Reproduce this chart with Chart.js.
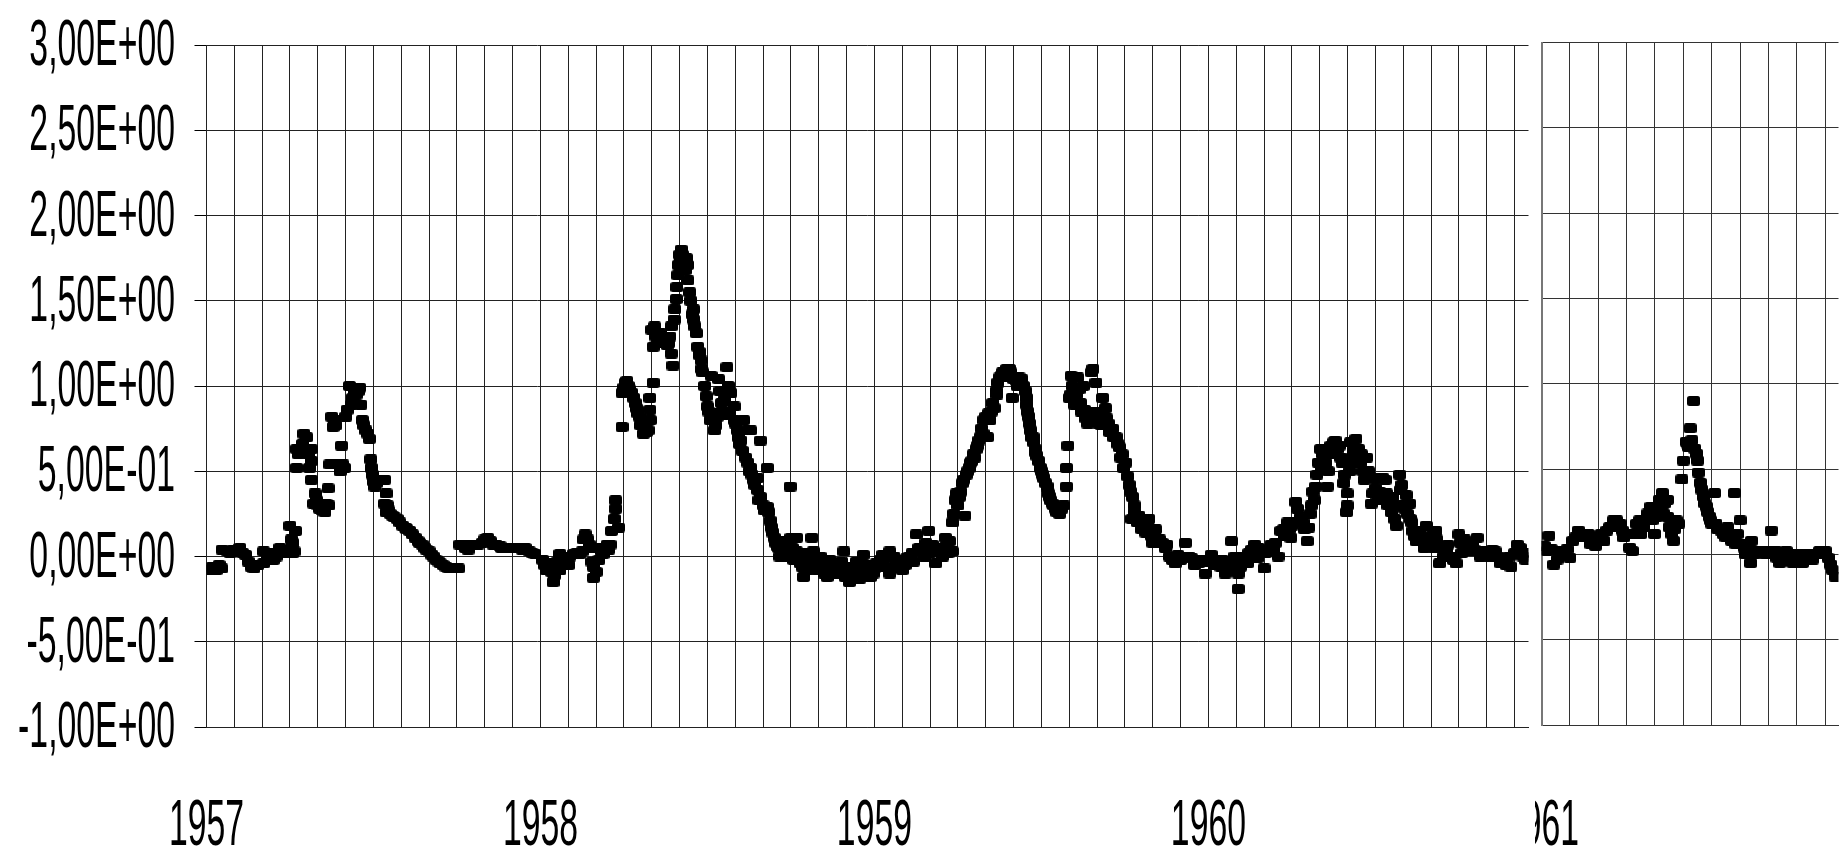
<!DOCTYPE html>
<html>
<head>
<meta charset="utf-8">
<title>1957-1961</title>
<script src="https://cdn.jsdelivr.net/npm/chart.js@4.4.0/dist/chart.umd.min.js"></script>
<style>
  html, body { margin: 0; padding: 0; background: #fff; }
  #wrap { position: relative; width: 1845px; height: 850px; overflow: hidden; }
  #left { position: absolute; left: 0; top: 0; }
  #right { position: absolute; left: 1535px; top: 0; }
</style>
</head>
<body>
<div id="wrap">
  <canvas id="left" width="1535" height="850"></canvas>
  <canvas id="right" width="310" height="850"></canvas>
</div>
<script>
    'use strict';

    // Year labels on the x axis (one label per 12 months)
    const years = [1957, 1958, 1959, 1960, 1961];

    // Observations per year: [month of year (0 = 1 Jan), value]
    const obs1957 = [
        [0.1,-0.08],[0.2,-0.06],[0.35,-0.08],[0.45,-0.05],[0.55,-0.07],[0.56,0.04],[0.75,0.03],[0.85,0.02],[0.95,0.04],
        [1.05,0.03],[1.2,0.05],[1.3,0.02],[1.4,0.01],[1.5,-0.03],[1.6,-0.06],[1.7,-0.07],[1.85,-0.05],[2.05,-0.04],
        [2.05,0.03],[2.2,-0.01],[2.3,0.02],[2.4,-0.02],[2.5,0.0],[2.64,0.05],[2.75,0.04],[2.8,0.02],[2.9,0.03],
        [3.05,0.1],[3.1,0.08],[3.15,0.03],[3.1,0.02],[3.0,0.18],[3.2,0.15],[3.24,0.63],[3.24,0.52],[3.3,0.6],
        [3.45,0.66],[3.5,0.72],[3.6,0.7],[3.55,0.63],[3.65,0.6],[3.7,0.52],[3.77,0.63],[3.77,0.56],[3.77,0.45],
        [3.9,0.37],[3.85,0.31],[3.95,0.33],[4.0,0.3],[4.06,0.28],[4.15,0.27],[4.2,0.3],[4.25,0.26],[4.3,0.31],
        [4.37,0.4],[4.4,0.3],[4.43,0.54],[4.5,0.82],[4.55,0.76],[4.6,0.8],[4.65,0.77],[4.7,0.54],[4.8,0.5],
        [4.85,0.65],[4.9,0.54],[4.96,0.52],[5.0,0.82],[5.05,0.86],[5.14,1.0],[5.2,0.89],[5.25,0.93],[5.3,0.97],
        [5.38,0.95],[5.45,0.97],[5.5,0.99],[5.55,0.89],[5.6,0.8],[5.65,0.77],[5.73,0.74],[5.8,0.72],[5.85,0.69],
        [5.9,0.57],[5.92,0.52],[5.96,0.48],[6.0,0.44],[6.05,0.41],[6.1,0.43],[6.2,0.45],[6.3,0.45],[6.4,0.45],
        [6.45,0.37],[6.4,0.31],[6.5,0.3],[6.45,0.26],[6.55,0.27],[6.6,0.25],[6.68,0.24],[6.75,0.23],[6.85,0.22],
        [6.95,0.2],[7.05,0.18],[7.15,0.17],[7.2,0.16],[7.3,0.15],[7.4,0.13],[7.5,0.11],[7.6,0.09],[7.65,0.08],
        [7.75,0.07],[7.85,0.05],[7.9,0.04],[8.0,0.03],[8.1,0.01],[8.15,0.0],[8.25,-0.02],[8.35,-0.03],[8.4,-0.04],
        [8.5,-0.05],[8.6,-0.06],[8.7,-0.07],[8.85,-0.07],[8.95,-0.07],[9.05,-0.07],[9.1,0.07],[9.2,0.07],[9.3,0.05],
        [9.4,0.07],[9.4,0.04],[9.6,0.07],[9.75,0.07],[9.9,0.08],[10.0,0.1],[10.1,0.11],[10.2,0.09],[10.3,0.07],
        [10.4,0.07],[10.55,0.06],[10.6,0.05],[10.75,0.05],[10.9,0.05],[11.0,0.05],[11.1,0.05],[11.25,0.05],
        [11.35,0.04],[11.45,0.05],[11.6,0.03],[11.7,0.02],[11.8,0.015]
    ];
    const obs1958 = [
        [0.08,-0.02],[0.15,-0.05],[0.2,-0.08],[0.3,-0.04],[0.4,-0.09],[0.45,-0.15],[0.5,-0.11],[0.55,-0.06],[0.6,-0.03],
        [0.7,0.015],[0.7,-0.08],[0.85,0.0],[0.95,-0.02],[1.0,-0.05],[1.05,0.0],[1.2,0.015],[1.3,0.02],[1.4,0.015],
        [1.5,0.03],[1.55,0.1],[1.6,0.13],[1.7,0.1],[1.75,0.07],[1.8,0.05],[1.85,-0.03],[1.9,-0.06],[1.9,-0.125],
        [2.0,-0.09],[2.05,0.05],[2.1,-0.02],[2.2,0.03],[2.25,0.015],[2.35,0.04],[2.4,0.07],[2.45,0.04],[2.5,0.07],
        [2.55,0.15],[2.65,0.22],[2.7,0.28],[2.7,0.33],[2.8,0.17],[2.93,0.76],[2.93,0.96],[3.0,0.99],[3.05,1.02],
        [3.1,1.03],[3.15,1.0],[3.2,0.98],[3.28,0.96],[3.35,0.93],[3.4,0.9],[3.45,0.87],[3.5,0.84],[3.55,0.82],
        [3.6,0.77],[3.64,0.8],[3.7,0.72],[3.75,0.74],[3.8,0.73],[3.87,0.74],[3.93,0.86],[3.93,0.93],[3.95,0.8],
        [4.05,1.02],[4.0,1.33],[4.1,1.35],[4.05,1.23],[4.15,1.29],[4.2,1.3],[4.25,1.25],[4.3,1.31],[4.35,1.28],
        [4.4,1.27],[4.5,1.27],[4.55,1.24],[4.6,1.25],[4.65,1.29],[4.7,1.19],[4.7,1.35],[4.76,1.12],[4.8,1.39],
        [4.82,1.45],[4.88,1.51],[4.9,1.58],[4.93,1.65],[4.95,1.71],[5.0,1.77],[5.03,1.74],[5.06,1.8],[5.1,1.77],
        [5.15,1.73],[5.2,1.68],[5.24,1.75],[5.28,1.71],[5.3,1.62],[5.36,1.55],[5.4,1.5],[5.45,1.42],[5.5,1.45],
        [5.5,1.39],[5.55,1.35],[5.6,1.31],[5.65,1.23],[5.7,1.2],[5.72,1.18],[5.77,1.15],[5.8,1.1],[5.83,1.08],
        [5.9,1.0],[5.95,0.94],[6.0,0.88],[6.05,0.85],[6.1,0.8],[6.13,1.06],[6.2,0.84],[6.25,0.74],[6.3,0.77],
        [6.35,0.82],[6.4,1.04],[6.45,0.97],[6.5,0.9],[6.55,0.85],[6.6,0.92],[6.6,0.83],[6.7,1.11],[6.75,1.0],
        [6.8,0.85],[6.84,0.96],[6.96,0.88],[6.96,0.8],[7.0,0.78],[7.08,0.74],[7.1,0.7],[7.15,0.66],[7.2,0.68],
        [7.25,0.62],[7.3,0.8],[7.37,0.58],[7.43,0.74],[7.45,0.55],[7.5,0.5],[7.55,0.74],[7.55,0.52],[7.6,0.48],
        [7.65,0.45],[7.7,0.42],[7.8,0.46],[7.8,0.39],[7.85,0.33],[7.9,0.68],[7.9,0.35],[8.0,0.3],[8.05,0.27],
        [8.15,0.52],[8.15,0.29],[8.2,0.26],[8.25,0.21],[8.3,0.17],[8.35,0.14],[8.4,0.11],[8.45,0.08],[8.5,0.06],
        [8.55,0.05],[8.6,0.0],[8.65,0.04],[8.74,0.02],[8.75,0.09],[8.85,0.06],[8.9,0.0],[8.97,0.41],[9.0,0.11],
        [9.05,0.05],[9.1,-0.02],[9.2,0.11],[9.2,0.03],[9.33,-0.04],[9.4,-0.06],[9.45,-0.12],[9.5,-0.02],[9.55,0.02],
        [9.6,-0.08],[9.7,-0.04],[9.75,0.11],[9.8,0.03],[9.9,-0.02],[9.95,-0.08],[10.05,0.0],[10.1,-0.04],[10.15,-0.06],
        [10.2,-0.1],[10.3,-0.12],[10.35,-0.06],[10.4,-0.02],[10.5,-0.1],[10.55,-0.04],[10.65,-0.06],[10.75,-0.1],
        [10.8,-0.03],[10.9,0.03],[10.95,-0.12],[11.0,-0.1],[11.05,-0.06],[11.1,-0.15],[11.15,-0.12],[11.23,-0.08],
        [11.3,-0.1],[11.35,-0.03],[11.47,-0.13],[11.5,-0.05],[11.55,-0.1],[11.6,0.01],[11.7,-0.06],[11.8,-0.05],
        [11.85,-0.12],[11.95,-0.1]
    ];
    const obs1959 = [
        [0.0,-0.07],[0.06,-0.04],[0.15,-0.06],[0.2,-0.02],[0.3,0.01],[0.4,-0.06],[0.45,0.0],[0.55,0.03],[0.55,-0.1],
        [0.65,-0.07],[0.7,0.0],[0.8,-0.04],[0.9,-0.02],[1.0,-0.08],[1.1,-0.05],[1.15,-0.01],[1.25,0.0],[1.35,0.02],
        [1.4,-0.03],[1.5,0.13],[1.6,0.05],[1.7,0.03],[1.8,0.0],[1.85,0.08],[1.95,0.15],[2.0,0.02],[2.08,0.07],
        [2.15,0.03],[2.2,-0.04],[2.3,0.03],[2.4,0.05],[2.45,0.0],[2.55,0.11],[2.6,0.06],[2.65,0.02],[2.7,0.09],
        [2.8,0.03],[2.8,0.2],[2.85,0.25],[2.9,0.33],[2.95,0.37],[3.0,0.3],[3.05,0.35],[3.1,0.38],[3.15,0.43],
        [3.2,0.45],[3.25,0.24],[3.3,0.48],[3.35,0.5],[3.4,0.52],[3.45,0.55],[3.5,0.56],[3.55,0.6],[3.6,0.58],
        [3.65,0.63],[3.7,0.65],[3.75,0.68],[3.8,0.7],[3.85,0.75],[3.9,0.72],[3.93,0.8],[4.0,0.82],[4.06,0.7],
        [4.1,0.84],[4.15,0.8],[4.2,0.85],[4.25,0.9],[4.3,0.87],[4.37,0.97],[4.4,0.95],[4.43,1.02],[4.5,1.05],
        [4.55,1.06],[4.6,1.08],[4.67,1.08],[4.7,1.05],[4.75,1.1],[4.8,1.07],[4.85,1.1],[4.9,1.08],[4.95,0.93],
        [5.0,1.04],[5.05,1.05],[5.1,1.03],[5.13,1.0],[5.2,1.05],[5.25,1.02],[5.3,1.04],[5.35,1.0],[5.42,0.97],
        [5.45,0.93],[5.48,0.89],[5.5,0.85],[5.54,0.82],[5.57,0.78],[5.6,0.74],[5.65,0.7],[5.7,0.7],[5.72,0.67],
        [5.78,0.63],[5.8,0.61],[5.84,0.59],[5.9,0.56],[5.96,0.52],[6.0,0.5],[6.05,0.48],[6.08,0.46],[6.15,0.43],
        [6.2,0.41],[6.25,0.37],[6.3,0.35],[6.32,0.33],[6.4,0.31],[6.43,0.3],[6.5,0.28],[6.55,0.26],[6.6,0.27],
        [6.65,0.25],[6.73,0.28],[6.8,0.3],[6.9,0.41],[6.9,0.52],[6.95,0.65],[7.0,0.93],[7.05,0.95],[7.07,1.06],
        [7.1,1.0],[7.15,0.98],[7.2,0.89],[7.25,0.95],[7.3,1.05],[7.35,0.98],[7.4,0.9],[7.43,0.85],[7.5,1.0],
        [7.55,0.86],[7.6,0.81],[7.66,0.78],[7.7,0.8],[7.75,0.85],[7.8,1.08],[7.85,1.1],[7.9,0.85],[7.96,1.02],
        [8.0,0.8],[8.05,0.78],[8.1,0.85],[8.15,0.77],[8.2,0.93],[8.25,0.8],[8.3,0.87],[8.35,0.81],[8.4,0.78],
        [8.45,0.73],[8.55,0.75],[8.6,0.7],[8.68,0.7],[8.75,0.66],[8.8,0.64],[8.85,0.58],[8.9,0.6],[8.95,0.52],
        [9.03,0.55],[9.1,0.47],[9.15,0.42],[9.2,0.38],[9.27,0.35],[9.33,0.3],[9.35,0.26],[9.25,0.22],[9.4,0.24],
        [9.45,0.2],[9.5,0.24],[9.55,0.2],[9.6,0.16],[9.7,0.18],[9.75,0.14],[9.8,0.2],[9.86,0.22],[9.95,0.12],
        [10.0,0.08],[10.05,0.12],[10.1,0.16],[10.2,0.08],[10.25,0.1],[10.34,0.08],[10.45,0.05],[10.5,0.07],
        [10.6,0.0],[10.7,-0.02],[10.8,-0.04],[10.9,0.01],[11.0,-0.02],[11.1,0.0],[11.17,0.08],[11.3,0.0],
        [11.4,-0.01],[11.5,-0.05],[11.64,-0.04],[11.75,-0.02],[11.88,-0.1],[11.95,-0.03]
    ];
    const obs1960 = [
        [0.05,-0.03],[0.1,0.01],[0.2,-0.05],[0.25,-0.02],[0.35,-0.04],[0.45,-0.06],[0.5,-0.02],[0.6,-0.1],[0.7,-0.05],
        [0.75,-0.08],[0.83,0.09],[0.9,-0.04],[0.95,0.0],[1.07,-0.1],[1.07,-0.19],[1.15,-0.06],[1.2,0.0],[1.3,-0.02],
        [1.4,-0.04],[1.45,0.02],[1.55,0.04],[1.66,0.07],[1.75,-0.01],[1.8,0.05],[1.9,0.02],[2.0,-0.07],[2.05,0.02],
        [2.15,0.03],[2.25,0.07],[2.35,0.04],[2.4,0.08],[2.5,0.0],[2.6,0.15],[2.7,0.16],[2.75,0.12],[2.85,0.2],
        [2.9,0.16],[2.96,0.11],[3.0,0.18],[3.05,0.2],[3.14,0.32],[3.2,0.28],[3.3,0.23],[3.4,0.2],[3.45,0.16],
        [3.55,0.09],[3.6,0.17],[3.65,0.25],[3.7,0.3],[3.75,0.38],[3.8,0.33],[3.85,0.41],[3.9,0.48],[3.95,0.55],
        [4.03,0.63],[4.05,0.52],[4.1,0.6],[4.15,0.58],[4.2,0.55],[4.27,0.41],[4.3,0.5],[4.35,0.6],[4.4,0.65],
        [4.45,0.62],[4.5,0.67],[4.55,0.68],[4.62,0.63],[4.7,0.65],[4.75,0.58],[4.8,0.55],[4.86,0.43],[4.9,0.48],
        [4.98,0.3],[4.98,0.37],[4.96,0.26],[5.08,0.5],[5.1,0.67],[5.15,0.58],[5.2,0.62],[5.25,0.55],[5.3,0.69],
        [5.35,0.6],[5.4,0.63],[5.45,0.55],[5.5,0.6],[5.55,0.5],[5.6,0.45],[5.68,0.58],[5.75,0.5],[5.8,0.46],
        [5.85,0.31],[5.9,0.37],[6.0,0.4],[6.05,0.36],[6.1,0.46],[6.15,0.38],[6.2,0.33],[6.27,0.46],[6.35,0.45],
        [6.4,0.37],[6.45,0.3],[6.5,0.34],[6.57,0.26],[6.6,0.35],[6.65,0.3],[6.7,0.22],[6.75,0.18],[6.87,0.48],
        [6.9,0.39],[6.95,0.42],[7.0,0.3],[7.05,0.28],[7.1,0.36],[7.15,0.25],[7.23,0.31],[7.25,0.22],[7.3,0.2],
        [7.35,0.15],[7.4,0.12],[7.46,0.09],[7.5,0.13],[7.6,0.15],[7.7,0.1],[7.75,0.05],[7.82,0.18],[7.94,0.07],
        [8.0,0.12],[8.05,0.08],[8.1,0.05],[8.17,0.15],[8.2,0.1],[8.3,-0.04],[8.4,0.05],[8.45,0.0],[8.54,0.03],
        [8.6,0.07],[8.7,0.0],[8.8,-0.02],[8.9,-0.04],[9.0,0.13],[9.05,0.08],[9.1,0.02],[9.2,0.1],[9.3,0.07],
        [9.4,0.03],[9.5,0.08],[9.55,0.04],[9.65,0.11],[9.76,0.0],[9.85,0.03],[10.0,0.01],[10.1,0.0],[10.2,0.04],
        [10.3,0.03],[10.4,0.0],[10.5,-0.04],[10.6,-0.03],[10.7,-0.05],[10.8,0.0],[10.87,-0.06],[11.0,0.02],
        [11.1,0.07],[11.2,0.05],[11.3,0.0],[11.4,-0.02],[11.5,0.02]
    ];
    const obs1961 = [
        [0.1,0.05],[0.2,0.02],[0.26,0.11],[0.35,0.03],[0.43,-0.06],[0.55,-0.03],[0.6,0.02],[0.77,0.0],[0.9,0.03],
        [1.0,-0.02],[1.1,0.08],[1.2,0.1],[1.3,0.14],[1.4,0.12],[1.5,0.1],[1.62,0.12],[1.65,0.12],[1.74,0.06],
        [1.85,0.1],[1.9,0.05],[2.0,0.08],[2.1,0.12],[2.2,0.08],[2.3,0.14],[2.4,0.16],[2.54,0.2],[2.6,0.16],
        [2.65,0.2],[2.77,0.18],[2.85,0.14],[2.9,0.1],[3.0,0.12],[3.1,0.04],[3.2,0.02],[3.3,0.12],[3.35,0.18],
        [3.46,0.2],[3.5,0.12],[3.6,0.16],[3.7,0.2],[3.75,0.24],[3.8,0.22],[3.86,0.28],[3.9,0.2],[3.98,0.12],
        [4.05,0.22],[4.1,0.28],[4.15,0.32],[4.26,0.36],[4.3,0.24],[4.35,0.3],[4.44,0.32],[4.45,0.22],[4.5,0.16],
        [4.6,0.12],[4.65,0.08],[4.7,0.15],[4.75,0.2],[4.84,0.18],[4.95,0.44],[5.0,0.55],[5.1,0.66],[5.15,0.65],
        [5.18,0.63],[5.24,0.74],[5.3,0.67],[5.36,0.9],[5.4,0.62],[5.47,0.59],[5.5,0.55],[5.53,0.48],[5.6,0.42],
        [5.65,0.38],[5.7,0.34],[5.75,0.3],[5.82,0.28],[5.85,0.25],[5.93,0.22],[5.95,0.2],[6.0,0.18],[6.05,0.18],
        [6.1,0.36],[6.15,0.18],[6.2,0.15],[6.33,0.14],[6.4,0.12],[6.5,0.1],[6.56,0.16],[6.6,0.12],[6.7,0.08],
        [6.8,0.36],[6.85,0.06],[6.9,0.12],[7.0,0.2],[7.05,0.06],[7.14,0.04],[7.2,0.0],[7.25,0.06],[7.37,-0.05],
        [7.4,0.08],[7.5,0.0],[7.55,0.02],[7.7,0.02],[7.8,0.02],[7.9,0.0],[8.0,0.02],[8.1,0.14],[8.17,0.0],
        [8.25,0.02],[8.3,-0.02],[8.4,-0.05],[8.5,0.0],[8.63,0.02],[8.7,-0.02],[8.8,0.0],[8.86,-0.05],[9.0,-0.02],
        [9.1,0.0],[9.2,-0.05],[9.3,-0.02],[9.4,0.0],[9.55,-0.03],[9.7,0.0],[9.8,0.02],[9.9,0.0],[10.0,0.02],
        [10.1,-0.02],[10.2,-0.06],[10.25,-0.09],[10.35,-0.13]
    ];

    const Y_MIN = -1, Y_MAX = 3, Y_STEP = 0.5;

    // month index since January 1957
    const toPoints = (year, rows) => rows.map(([m, v]) => ({ x: (year - years[0]) * 12 + m, y: v }));
    const firstPanel = [].concat(
        toPoints(1957, obs1957), toPoints(1958, obs1958), toPoints(1959, obs1959), toPoints(1960, obs1960));
    const secondPanel = toPoints(1961, obs1961);

    // "3,00E+00" style labels
    const sci = (v) => {
        const [m, e] = v.toExponential(2).split('e');
        const n = Number(e);
        return m.replace('.', ',') + 'E' + (n < 0 ? '-' : '+') + String(Math.abs(n)).padStart(2, '0');
    };
    const yearLabel = (v) => (v % 12 === 0 ? String(years[0] + v / 12) : '');

    // marker: slightly wide, rounded black block
    const marker = document.createElement('canvas');
    marker.width = 13;
    marker.height = 10;
    (() => {
        const c = marker.getContext('2d');
        c.fillStyle = '#000';
        c.beginPath();
        c.roundRect(0, 0, 13, 10, 2.5);
        c.fill();
    })();

    // Condensed axis labels (the original uses a narrow face)
    const narrowLabels = {
        id: 'narrowLabels',
        afterDraw(chart, args, o) {
            const ctx = chart.ctx;
            const put = (text, x, y, align) => {
                ctx.save();
                ctx.translate(x, y);
                ctx.scale(o.squeeze, 1);
                ctx.textAlign = align;
                ctx.textBaseline = 'alphabetic';
                ctx.fillStyle = '#000';
                ctx.font = o.size + 'px "Liberation Sans", Arial, sans-serif';
                ctx.fillText(text, 0, 0);
                ctx.restore();
            };
            if (o.showY) {
                const ys = chart.scales.y;
                ys.ticks.forEach(t => put(sci(t.value), o.yRight, ys.getPixelForValue(t.value) + o.yShift, 'right'));
            }
            const xs = chart.scales.x;
            xs.ticks.forEach(t => {
                const s = yearLabel(t.value);
                if (s) put(s, xs.getPixelForValue(t.value), o.xBaseline, 'center');
            });
        }
    };

    const makeChart = (id, points, xMin, xMax, pad, gridColor, axisColor, axisWidth, yTickLen, showY) => new Chart(
        document.getElementById(id), {
            type: 'scatter',
            data: {
                datasets: [{
                    data: points,
                    pointStyle: marker,
                    pointRadius: 6.5,
                    backgroundColor: '#000',
                    borderColor: '#000',
                    borderWidth: 0,
                }],
            },
            options: {
                responsive: false,
                animation: false,
                events: [],
                layout: { padding: pad },
                plugins: {
                    legend: { display: false },
                    tooltip: { enabled: false },
                    narrowLabels: { squeeze: 0.52, size: 65, yRight: 175, yShift: 20, xBaseline: 845, showY },
                },
                scales: {
                    x: {
                        type: 'linear',
                        min: xMin,
                        max: xMax,
                        afterBuildTicks: (s) => {
                            const t = [];
                            for (let i = Math.ceil(xMin); i <= Math.floor(xMax); i++) t.push({ value: i });
                            s.ticks = t;
                        },
                        ticks: { display: false, autoSkip: false, callback: yearLabel },
                        grid: { color: gridColor, lineWidth: 1, drawTicks: false },
                        border: { color: gridColor, width: 1 },
                    },
                    y: {
                        type: 'linear',
                        min: Y_MIN,
                        max: Y_MAX,
                        ticks: { display: false, stepSize: Y_STEP, callback: sci },
                        grid: { color: gridColor, lineWidth: 1, drawTicks: yTickLen > 0, tickLength: yTickLen, tickColor: '#000' },
                        border: { color: axisColor, width: axisWidth },
                    },
                },
            },
            plugins: [narrowLabels],
        });

    // left panel: Jan 1957 .. mid Dec 1960, cut at the panel edge
    makeChart('left', firstPanel, 0, 47.5, { left: 194.5, top: 45, right: 0, bottom: 123 }, '#222', '#222', 1, 12, true);
    // right panel: the 1961 sheet pasted next to it
    makeChart('right', secondPanel, 48, 58.47, { left: 5.7, top: 42.7, right: 0, bottom: 125 }, '#333', '#777', 2, 0, false);
</script>
</body>
</html>
